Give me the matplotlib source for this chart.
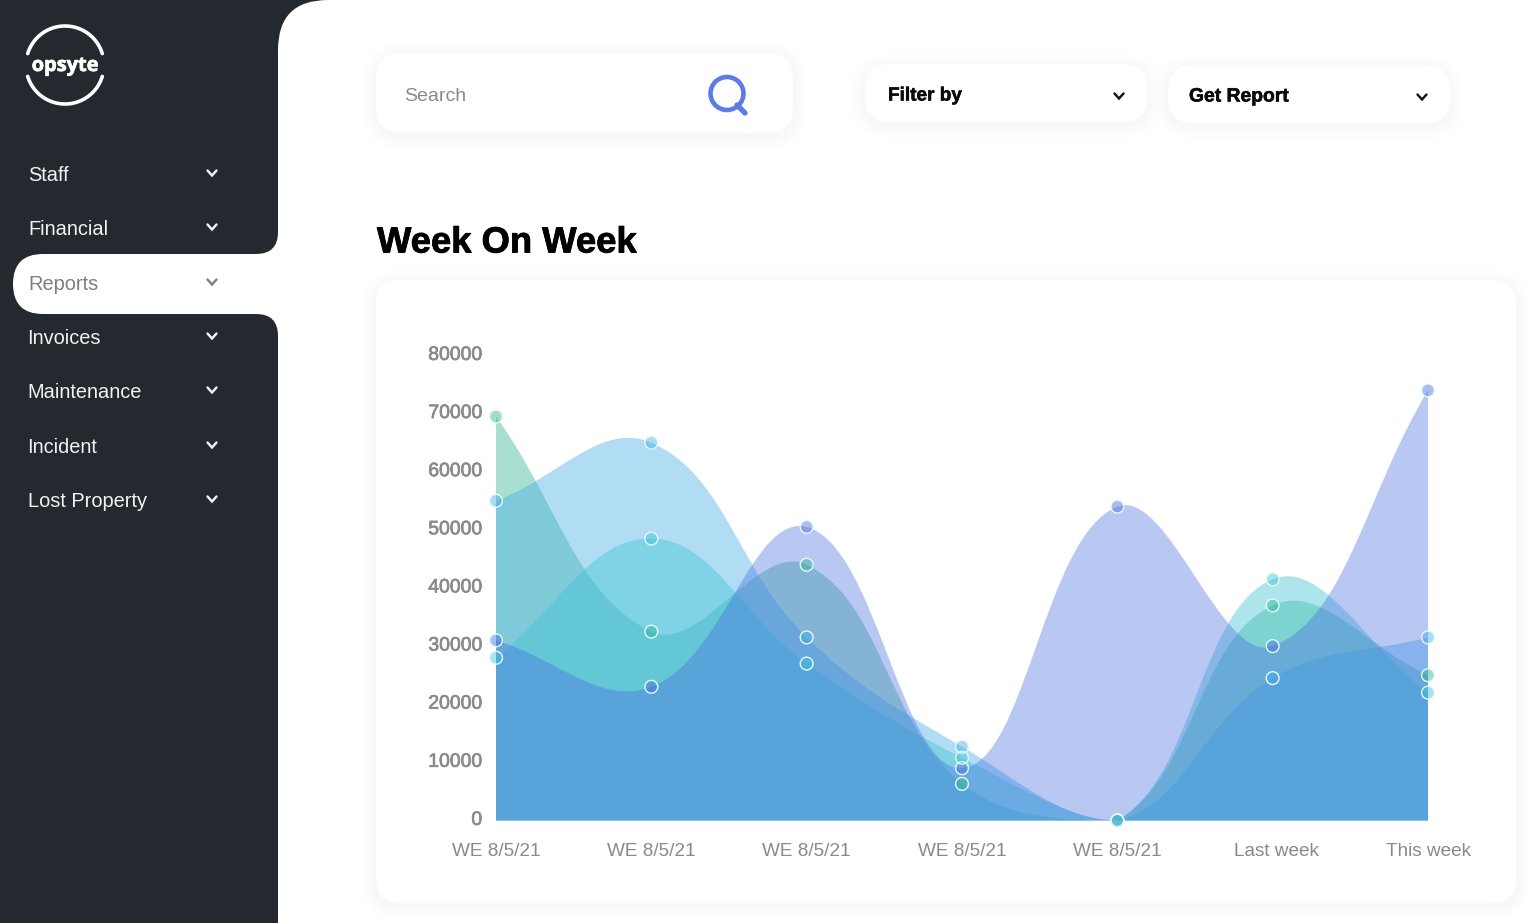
import numpy as np
import matplotlib
matplotlib.use('Agg')
import matplotlib.pyplot as plt
import matplotlib.patheffects as pe
from matplotlib.patches import FancyBboxPatch, PathPatch, Rectangle, Circle
from matplotlib.path import Path
from matplotlib.transforms import ScaledTranslation

W, H = 1532, 923

weeks = ['WE 8/5/21', 'WE 8/5/21', 'WE 8/5/21', 'WE 8/5/21', 'WE 8/5/21', 'Last week', 'This week']
y_ticks = [0, 10000, 20000, 30000, 40000, 50000, 60000, 70000, 80000]

green = [69500, 32500, 44000, 6300, 0, 37000, 25000]
sky = [55000, 65000, 31500, 12700, 0, 24500, 31500]
teal = [28000, 48500, 27000, 10800, 0, 41500, 22000]
periwinkle = [31000, 23000, 50500, 9000, 54000, 30000, 74000]

series = [
    (green, '#32B58F', 0.42),
    (sky, '#43AEE7', 0.42),
    (teal, '#3EC3D2', 0.42),
    (periwinkle, '#486CE2', 0.38),
]
# the point at the shared zero shows the sky colour, so sky goes on last
marker_order = [0, 2, 3, 1]

menu = ['Staff', 'Financial', 'Reports', 'Invoices', 'Maintenance', 'Incident', 'Lost Property']
menu_x = [28.5, 28.5, 28.5, 27.5, 27.5, 27.5, 27.5]
menu_y = [174, 228, 283, 337, 391, 446, 500]

DARK = '#24282F'
GREY = '#8A8A8A'
FONT = 'Liberation Sans'


def px(size):
    return size * 0.72


def rounded(ax, x0, y0, x1, y1, r, color, **kw):
    p = FancyBboxPatch((x0, y0), x1 - x0, y1 - y0, boxstyle=f'round,pad=0,rounding_size={r}',
                       fc=color, ec='none', **kw)
    ax.add_patch(p)
    return p


def soft_box(ax, x0, y0, x1, y1, r):
    # stacked faint boxes stand in for the css shadow
    for grow in range(14, 0, -2):
        rounded(ax, x0 - grow, y0 - grow + 3, x1 + grow, y1 + grow + 3, r + grow, 'black', alpha=0.0035)
    rounded(ax, x0, y0, x1, y1, r, 'white')


def chevron(ax, x, y, color):
    ax.plot([x - 4.5, x, x + 4.5], [y - 2.5, y + 2.5, y - 2.5], color=color, lw=px(2.4),
            solid_capstyle='round', solid_joinstyle='miter')


def bezier_path(values, x_scale, y_scale, top, tension=0.4):
    # chart.js style control points, worked out in pixels and capped to the plot area
    pts = np.column_stack([np.arange(len(values)) * x_scale, np.array(values) * y_scale])
    n = len(pts)
    verts = [pts[0]]
    codes = [Path.MOVETO]
    cp_prev = [None] * n
    cp_next = [None] * n
    for i in range(n):
        p0 = pts[max(i - 1, 0)]
        p1 = pts[i]
        p2 = pts[min(i + 1, n - 1)]
        d01 = np.hypot(*(p1 - p0))
        d12 = np.hypot(*(p2 - p1))
        fa = d01 / (d01 + d12)
        fb = d12 / (d01 + d12)
        cp_prev[i] = p1 - tension * fa * (p2 - p0)
        cp_next[i] = p1 + tension * fb * (p2 - p0)
        cp_prev[i][1] = np.clip(cp_prev[i][1], 0, top * y_scale)
        cp_next[i][1] = np.clip(cp_next[i][1], 0, top * y_scale)
    for i in range(n - 1):
        verts += [cp_next[i], cp_prev[i + 1], pts[i + 1]]
        codes += [Path.CURVE4] * 3
    verts += [[pts[-1][0], 0], [0, 0], pts[0]]
    codes += [Path.LINETO, Path.LINETO, Path.CLOSEPOLY]
    verts = np.array(verts) / [x_scale, y_scale]
    return Path(verts, codes)


fig = plt.figure(figsize=(W / 100, H / 100), dpi=100, facecolor='white')

# page layer in pixel coordinates
ui = fig.add_axes([0, 0, 1, 1])
ui.set_xlim(0, W)
ui.set_ylim(H, 0)
ui.axis('off')

# sidebar
rounded(ui, -60, -60, 278, 254, 22, DARK)
rounded(ui, -60, 314, 278, H + 60, 22, DARK)
ui.add_patch(Rectangle((0, 250), 60, 70, fc=DARK, ec='none'))
ui.add_patch(Rectangle((278, -1), 60, 60, fc=DARK, ec='none'))
rounded(ui, 278, 0, W + 100, H + 100, 50, 'white')
rounded(ui, 13, 254, 340, 314, 30, 'white')
ui.add_patch(Rectangle((278, 240), 30, 90, fc='white', ec='none'))

# logo
t = np.radians(np.linspace(17, 163, 60))
ui.plot(65 + 39 * np.cos(t), 65 - 39 * np.sin(t), color='white', lw=px(3.6), solid_capstyle='round')
ui.plot(65 + 39 * np.cos(t), 65 + 39 * np.sin(t), color='white', lw=px(3.6), solid_capstyle='round')
ui.text(65, 66, 'opsyte', color='white', family='Open Sans', weight='bold', fontsize=px(20),
        ha='center', va='center', path_effects=[pe.withStroke(linewidth=0.5, foreground='white')])

for label, x, y in zip(menu, menu_x, menu_y):
    c = '#7F7F7F' if label == 'Reports' else '#F2F2F2'
    ui.text(x, y + 7, label, color=c, family=FONT, fontsize=px(20), ha='left', va='baseline')
    chevron(ui, 212, y - 1, c)

# top controls
soft_box(ui, 376, 53, 793, 133, 26)
ui.text(404, 101, 'Search', color=GREY, family=FONT, fontsize=px(19.5), ha='left', va='baseline')
ui.add_patch(Circle((727, 93.5), 16.5, fc='none', ec='#5B7CE5', lw=px(4.6)))
ui.plot([737, 745], [105, 113], color='#5B7CE5', lw=px(5.4), solid_capstyle='round')

soft_box(ui, 865, 64, 1147, 122, 25)
ui.text(888, 96, 'Filter by', color='#0A0A0A', family=FONT, weight='bold', fontsize=px(19), ha='left', va='center',
        path_effects=[pe.withStroke(linewidth=0.4, foreground='#0A0A0A')])
chevron(ui, 1119, 96, '#111111')
soft_box(ui, 1168, 65, 1450, 123, 25)
ui.text(1189, 97, 'Get Report', color='#0A0A0A', family=FONT, weight='bold', fontsize=px(19.3), ha='left', va='center',
        path_effects=[pe.withStroke(linewidth=0.4, foreground='#0A0A0A')])
chevron(ui, 1422, 97, '#111111')

ui.text(377, 243, 'Week On Week', color='black', family=FONT, weight='bold', fontsize=px(36.4), ha='left', va='center',
        path_effects=[pe.withStroke(linewidth=0.6, foreground='black')])

# chart card
soft_box(ui, 376, 280, 1516, 903, 24)

# chart itself
left, right, base, top = 496, 1428, 820.5, 355.5
ax = fig.add_axes([left / W, 1 - base / H, (right - left) / W, (base - top) / H])
ax.patch.set_alpha(0)
ax.set_xlim(0, 6)
ax.set_ylim(0, 80000)
for s in ax.spines.values():
    s.set_visible(False)

x_scale = (right - left) / 6
y_scale = (base - top) / 80000
xs = np.arange(len(weeks))
for values, color, alpha in series:
    path = bezier_path(values, x_scale, y_scale, 80000)
    ax.add_patch(PathPatch(path, fc=color, ec='none', alpha=alpha))
for i in marker_order:
    values, color, alpha = series[i]
    ax.scatter(xs, values, s=85, c=color, alpha=0.45, edgecolors='none', clip_on=False, zorder=5)
    ax.scatter(xs, values, s=85, facecolors='none', edgecolors='#E4FAFA', linewidths=1.0, clip_on=False, zorder=6)

ax.set_xticks(xs, weeks)
ax.set_yticks(y_ticks, [str(v) for v in y_ticks])
ax.tick_params(length=0, pad=16.5, axis='x', labelcolor=GREY, labelsize=px(19))
ax.tick_params(length=0, pad=10, axis='y', labelcolor=GREY, labelsize=px(19.4))
up = ScaledTranslation(0, 1.5 / 72, fig.dpi_scale_trans)
for lab in ax.get_xticklabels():
    lab.set_family(FONT)
for lab in ax.get_yticklabels():
    lab.set_family(FONT)
    lab.set_path_effects([pe.withStroke(linewidth=0.5, foreground=GREY)])
    lab.set_transform(lab.get_transform() + up)
# "Last week" sits a little right of its point in the original
last = ax.get_xticklabels()[5]
last.set_transform(last.get_transform() + ScaledTranslation(2.5 / 72, 0, fig.dpi_scale_trans))

fig.savefig('out.png', dpi=100, facecolor='white')
